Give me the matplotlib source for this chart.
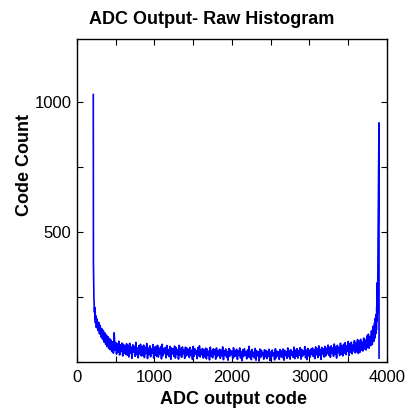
import numpy as np
import matplotlib.pyplot as plt

plt.rcParams['font.family'] = ['Liberation Sans', 'DejaVu Sans']

# steep rise at the low end, read code by code
left_codes = [210, 212, 214, 216, 218, 220, 223, 226, 229, 232, 235, 238]
left_counts = [1027, 386, 330, 280, 250, 225, 205, 190, 210, 165, 195, 150]

# flat body of the bathtub, one value every 10 codes from 240 to 3830
body_start = 240
body_step = 10
body_counts = [
    178, 132, 165, 121, 152, 108, 140, 96, 128, 87, 121, 76, 112, 68, 104, 59, 97, 52, 90, 47,
    84, 40, 78, 34, 112, 45, 75, 30, 70, 38, 80, 27, 66, 41, 73, 23, 68, 34, 61, 29,
    70, 26, 64, 19, 72, 33, 57, 14, 66, 37, 60, 22, 75, 28, 54, 16, 63, 31, 68, 23,
    59, 25, 65, 17, 56, 32, 71, 13, 53, 29, 62, 20, 50, 34, 67, 15, 57, 26, 60, 21,
    64, 19, 52, 30, 59, 12, 68, 24, 51, 33, 56, 16, 63, 28, 48, 21, 60, 10, 54, 31,
    50, 22, 61, 15, 55, 29, 47, 11, 64, 25, 52, 18, 58, 32, 46, 14, 57, 23, 53, 27,
    49, 17, 56, 26, 45, 10, 60, 22, 51, 30, 43, 13, 55, 24, 62, 19, 48, 28, 52, 15,
    46, 20, 53, 12, 50, 27, 41, 8, 57, 23, 44, 16, 51, 29, 47, 11, 54, 21, 42, 25,
    49, 14, 45, 24, 58, 9, 43, 26, 50, 18, 40, 7, 52, 22, 46, 28, 41, 13, 55, 20,
    44, 23, 49, 10, 42, 25, 54, 15, 39, 5, 47, 21, 51, 27, 38, 12, 46, 19, 60, 17,
    41, 9, 48, 22, 37, 15, 52, 7, 43, 24, 39, 4, 50, 18, 45, 26, 36, 11, 47, 20,
    44, 13, 40, 22, 49, 6, 38, 19, 46, 25, 35, 8, 51, 16, 42, 23, 39, 10, 48, 21,
    42, 17, 50, 7, 45, 24, 39, 14, 54, 21, 43, 11, 47, 26, 40, 18, 57, 13, 46, 22,
    51, 15, 44, 26, 55, 11, 48, 22, 42, 28, 59, 16, 46, 9, 52, 24, 45, 19, 50, 30,
    54, 21, 47, 13, 58, 28, 50, 17, 62, 25, 49, 10, 56, 31, 51, 19, 60, 23, 53, 32,
    65, 26, 57, 18, 62, 33, 54, 22, 69, 29, 59, 15, 64, 36, 56, 25, 72, 30, 61, 23,
    68, 34, 74, 28, 63, 40, 79, 25, 70, 37, 76, 31, 65, 43, 82, 35, 73, 39, 86, 33,
    80, 37, 87, 45, 76, 42, 92, 50, 84, 46, 100, 55, 107, 53, 98, 63, 120, 67, 137, 79,
]

# steep rise at the high end
right_codes = [3840, 3845, 3850, 3855, 3860, 3864, 3868, 3871, 3874, 3877, 3880, 3897, 3898]
right_counts = [150, 92, 168, 108, 182, 124, 210, 156, 304, 186, 250, 918, 15]

x_ticks = [0, 500, 1000, 1500, 2000, 2500, 3000, 3500, 4000]
x_tick_labels = ['0', '', '1000', '', '2000', '', '3000', '', '4000']
y_ticks = [0, 250, 500, 750, 1000]
y_tick_labels = ['', '', '500', '', '1000']

body_codes = body_start + body_step * np.arange(len(body_counts))
codes = np.concatenate([left_codes, body_codes, right_codes])
counts = np.concatenate([left_counts, body_counts, right_counts])

fig = plt.figure(figsize=(4.10, 4.17), dpi=100)
ax = fig.add_axes([0.1878, 0.1319, 0.756, 0.7746])
ax.plot(codes, counts, color='blue', linewidth=1.2)

ax.set_xlim(0, 4000)
ax.set_ylim(0, 1240)
ax.set_xticks(x_ticks)
ax.set_xticklabels(x_tick_labels)
ax.set_yticks(y_ticks)
ax.set_yticklabels(y_tick_labels)
ax.tick_params(direction='in', length=4, width=0.8, top=True, right=True, labelsize=12)
ax.tick_params(axis='x', pad=6)
ax.tick_params(axis='y', pad=4)
for spine in ax.spines.values():
    spine.set_linewidth(1.0)

ax.set_title('ADC Output- Raw Histogram', fontsize=13, fontweight='bold', x=0.435, y=1.035, va='center')
ax.set_xlabel('ADC output code', fontsize=13, fontweight='bold', va='center')
ax.xaxis.set_label_coords(0.506, -0.1176)
ax.set_ylabel('Code Count', fontsize=13, fontweight='bold', va='center', ha='center')
ax.yaxis.set_label_coords(-0.17, 0.61)

fig.savefig('out.png', dpi=100)
